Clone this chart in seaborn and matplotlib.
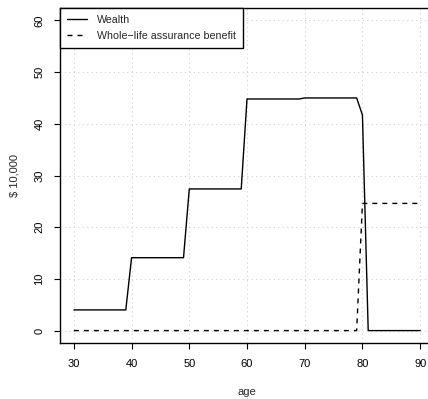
import numpy as np
import pandas as pd
import matplotlib
matplotlib.use("Agg")
import matplotlib.pyplot as plt
from matplotlib.lines import Line2D
import seaborn as sns

# Ages and the two series (units of $10,000)
age = list(range(30, 91))
wealth = ([4.0] * 10 + [14.1] * 10 + [27.4] * 10 + [44.8] * 10 +
          [45.0] * 10 + [41.7] + [0.0] * 10)
benefit = [0.0] * 50 + [24.6] * 11

x_ticks = [30, 40, 50, 60, 70, 80, 90]
y_ticks = [0, 10, 20, 30, 40, 50, 60]
series_names = ["Wealth", "Whole\u2212life assurance benefit"]

df = pd.DataFrame({
    "age": age * 2,
    "value": wealth + benefit,
    "series": [series_names[0]] * len(age) + [series_names[1]] * len(age),
})

sns.set_style("white")
plt.rcParams["font.family"] = ["Liberation Sans", "DejaVu Sans"]

fig = plt.figure(figsize=(4.28, 3.99), dpi=100)
ax = fig.add_axes([60 / 428, 56 / 399, 374 / 428, 335 / 399])

sns.lineplot(data=df, x="age", y="value", style="series",
             dashes={series_names[0]: "", series_names[1]: (3.6, 3.6)},
             color="black", linewidth=1.0, ax=ax, legend=False, zorder=3)

ax.set_xlim(27.6, 92.4)
ax.set_ylim(-2.4, 62.4)
ax.set_xticks(x_ticks)
ax.set_yticks(y_ticks)
ax.set_yticklabels([str(v) for v in y_ticks], rotation=90, va="center")
ax.tick_params(axis="both", direction="out", length=4.3, width=0.8,
               labelsize=8, colors="black", pad=7, left=True, bottom=True)
ax.grid(True, color="#d3d3d3", linestyle=(0, (1, 3)), linewidth=0.8, zorder=0)
for s in ax.spines.values():
    s.set_color("black")
    s.set_linewidth(1.0)
    s.set_visible(True)

ax.set_xlabel("age", fontsize=8, labelpad=13)
ax.set_ylabel(r"\$ 10,000", fontsize=8, labelpad=11)

handles = [Line2D([], [], color="black", lw=1.0),
           Line2D([], [], color="black", lw=1.0, dashes=(3.6, 3.6))]
leg = ax.legend(handles, series_names, loc="upper left", bbox_to_anchor=(0, 1),
                borderaxespad=0, fontsize=7.7, frameon=True, fancybox=False,
                handlelength=1.9, handletextpad=0.9, borderpad=0.65,
                labelspacing=0.55)
leg.get_frame().set_edgecolor("black")
leg.get_frame().set_linewidth(1.0)
leg.get_frame().set_facecolor("white")
leg.get_frame().set_alpha(1)

fig.savefig("out.png", dpi=100)
